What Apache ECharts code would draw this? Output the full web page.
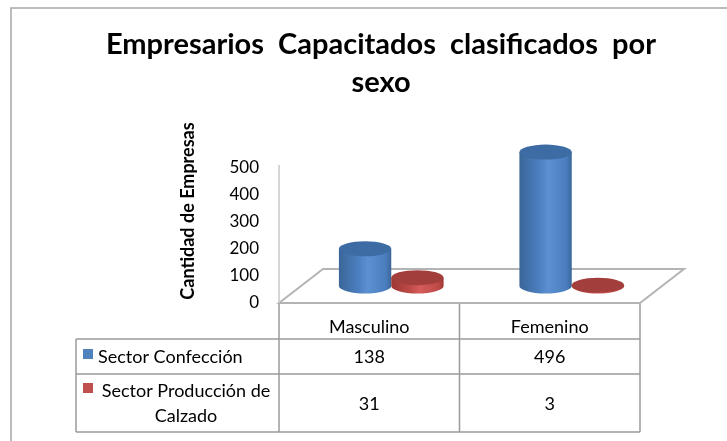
<!DOCTYPE html>
<html lang="es">
<head>
<meta charset="utf-8">
<title>Empresarios Capacitados clasificados por sexo</title>
<script src="https://cdn.jsdelivr.net/npm/echarts@6/dist/echarts.min.js"></script>
<style>
  html, body { margin: 0; padding: 0; background: #fff; }
  #main { width: 727px; height: 441px; }
</style>
</head>
<body>
<div id="main"></div>
<script>
// datos
var categories = ['Masculino', 'Femenino'];
var seriesNames = ['Sector Confección', 'Sector Producción de\nCalzado'];
var confeccion = [138, 496];
var calzado = [31, 3];
var yMax = 500;
var yStep = 100;

var colors = ['#4f81bd', '#c0504d'];
var FONT = 'Lato, "Noto Sans", sans-serif';

// grid (area de la pared trasera / suelo)
var GL = 279, GR = 640, GT = 168, GB = 303;
// profundidad del suelo 3D
var DX = 44, DY = 34;

var myChart = echarts.init(document.getElementById('main'));

// cilindros
function cylinder(side, c) {
  return function (params, api) {
    var band = api.size([1, 0])[0];
    var base = api.coord([api.value(0), 0]);
    var top = api.coord([api.value(0), api.value(1)]);
    var rx = band * 0.145, ry = 7.5;
    var cx = base[0] + side * rx + DX / 2;
    var by = base[1] - DY / 2;
    var ty = top[1] - DY / 2;
    var body = 'M' + (cx - rx) + ' ' + by + ' L' + (cx - rx) + ' ' + ty +
      ' L' + (cx + rx) + ' ' + ty + ' L' + (cx + rx) + ' ' + by +
      ' A' + rx + ' ' + ry + ' 0 0 1 ' + (cx - rx) + ' ' + by + ' Z';
    var cap = 'M' + (cx - rx) + ' ' + ty +
      ' A' + rx + ' ' + ry + ' 0 1 1 ' + (cx + rx) + ' ' + ty +
      ' A' + rx + ' ' + ry + ' 0 1 1 ' + (cx - rx) + ' ' + ty + ' Z';
    var grad = new echarts.graphic.LinearGradient(0, 0, 1, 0, [
      {offset: 0, color: c.edge},
      {offset: 0.35, color: c.mid},
      {offset: 0.55, color: c.light},
      {offset: 0.9, color: c.mid},
      {offset: 1, color: c.edge}
    ]);
    return {
      type: 'group',
      children: [
        {type: 'path', shape: {pathData: body}, style: {fill: grad}},
        {type: 'path', shape: {pathData: cap}, style: {fill: c.top}}
      ]
    };
  };
}

// suelo y pared
function floor(params, api) {
  var cs = params.coordSys;
  var x0 = cs.x, y0 = cs.y + cs.height, x1 = cs.x + cs.width;
  return {
    type: 'group',
    children: [
      {type: 'polygon', shape: {points: [[x0, y0], [x0 + DX, y0 - DY], [x1 + DX, y0 - DY], [x1, y0]]},
        style: {fill: 'none', stroke: '#b4b4b4', lineWidth: 2}},
      {type: 'line', shape: {x1: x0, y1: cs.y - 3, x2: x0, y2: y0},
        style: {stroke: '#c8c8c8', lineWidth: 1.5}}
    ]
  };
}

function toData(arr) {
  return arr.map(function (v, i) { return [i, v]; });
}

// tabla de datos
var LINE = {stroke: '#9a9a9a', lineWidth: 1.5};
var TL = 76, R1 = 339, R2 = 374, R3 = 432;
var colX = [GL, (GL + GR) / 2, GR];
var graphic = [
  {type: 'rect', shape: {x: 11, y: 8, width: 800, height: 500}, style: {fill: 'none', stroke: '#a6a6a6', lineWidth: 1.5}, silent: true},
  {type: 'text', x: 188, y: 211, rotation: Math.PI / 2,
    style: {text: 'Cantidad de Empresas', font: 'bold 18px ' + FONT, fill: '#000', align: 'center', verticalAlign: 'middle'}}
];
colX.forEach(function (x) {
  graphic.push({type: 'line', shape: {x1: x, y1: GB, x2: x, y2: R3}, style: LINE});
});
[R1, R2, R3].forEach(function (y) {
  graphic.push({type: 'line', shape: {x1: TL, y1: y, x2: GR, y2: y}, style: LINE});
});
graphic.push({type: 'line', shape: {x1: TL, y1: R1, x2: TL, y2: R3}, style: LINE});

var rowVals = [confeccion, calzado];
var rowMid = [(R1 + R2) / 2 + 1, (R2 + R3) / 2 + 1];
rowVals.forEach(function (vals, r) {
  var keyY = r === 0 ? 349 : 383;
  graphic.push({type: 'rect', shape: {x: 83, y: keyY, width: 10, height: 10}, style: {fill: colors[r]}});
  if (r === 0) {
    graphic.push({type: 'text', x: 98, y: rowMid[0],
      style: {text: seriesNames[0], font: '18px ' + FONT, fill: '#000', align: 'left', verticalAlign: 'middle'}});
  } else {
    graphic.push({type: 'text', x: 186, y: rowMid[1],
      style: {text: seriesNames[1], font: '18px ' + FONT, lineHeight: 25, fill: '#000', align: 'center', verticalAlign: 'middle'}});
  }
  vals.forEach(function (v, i) {
    var cx = GL + (GR - GL) / categories.length * (i + 0.5);
    graphic.push({type: 'text', x: cx, y: rowMid[r],
      style: {text: String(v), font: '18px ' + FONT, fill: '#000', align: 'center', verticalAlign: 'middle'}});
  });
});

var option = {
  backgroundColor: '#fff',
  animation: false,
  title: {
    text: 'Empresarios  Capacitados  clasificados  por\nsexo',
    left: 376,
    top: 21,
    textAlign: 'center',
    textStyle: {fontFamily: FONT, fontWeight: 'bold', fontSize: 29, lineHeight: 38, color: '#000'}
  },
  grid: {left: GL, right: 727 - GR, top: GT, bottom: 441 - GB},
  xAxis: {
    type: 'category',
    data: categories,
    axisLine: {show: false},
    axisTick: {show: false},
    axisLabel: {margin: 15, fontFamily: FONT, fontSize: 18, color: '#000'},
    splitLine: {show: false}
  },
  yAxis: {
    type: 'value',
    min: 0,
    max: yMax,
    interval: yStep,
    axisLine: {show: false},
    axisTick: {show: false},
    splitLine: {show: false},
    axisLabel: {margin: 20, padding: [4, 0, 0, 0], fontFamily: FONT, fontSize: 17, color: '#000'}
  },
  graphic: graphic,
  series: [
    {type: 'custom', silent: true, z: 1, renderItem: floor, data: [[0, 0]]},
    {type: 'custom', name: 'Sector Confección', z: 3, renderItem: cylinder(-1,
      {edge: '#3a6698', mid: '#4a7dbd', light: '#5b90d2', top: '#3d6ca5'}), data: toData(confeccion)},
    {type: 'custom', name: 'Sector Producción de Calzado', z: 3, renderItem: cylinder(1,
      {edge: '#9c3734', mid: '#bd4a47', light: '#d45c59', top: '#a23e3b'}), data: toData(calzado)}
  ]
};
myChart.setOption(option);
</script>
</body>
</html>
